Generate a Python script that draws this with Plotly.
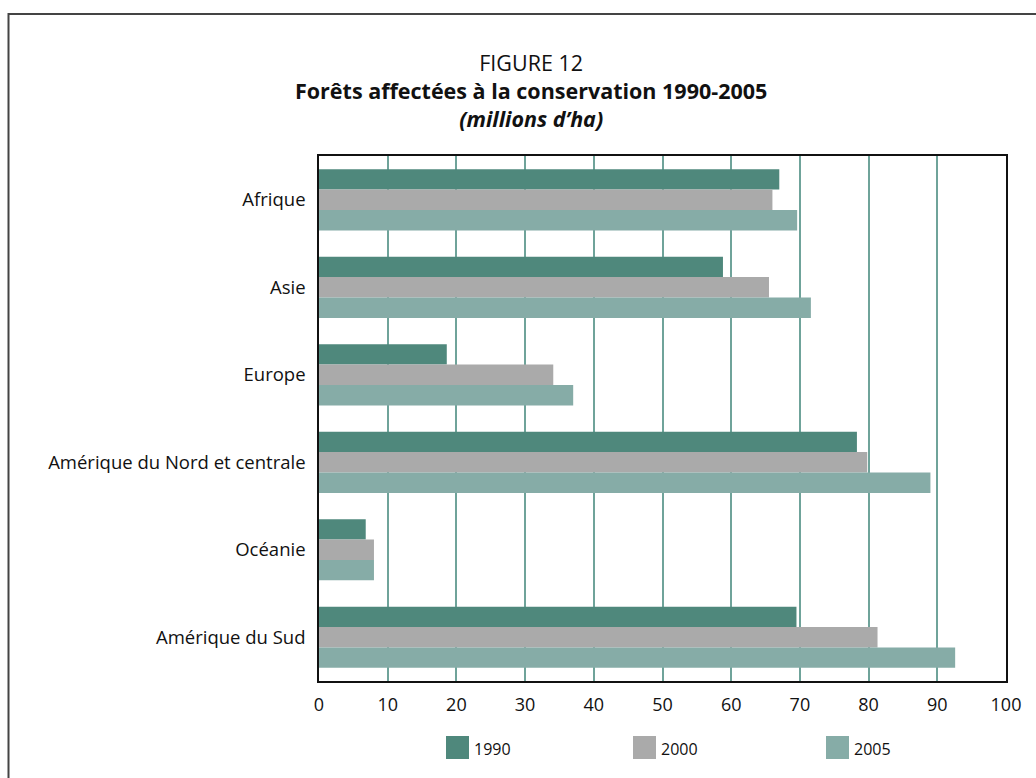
import plotly.graph_objects as go

# Forêts affectées à la conservation, par région (millions d'ha)
regions = ["Afrique", "Asie", "Europe", "Amérique du Nord et centrale",
           "Océanie", "Amérique du Sud"]
years = ["1990", "2000", "2005"]
v1990 = [67.0, 58.8, 18.6, 78.3, 6.8, 69.5]
v2000 = [66.0, 65.5, 34.1, 79.8, 8.0, 81.3]
v2005 = [69.6, 71.6, 37.0, 89.0, 8.0, 92.6]
series = [v1990, v2000, v2005]
colors = ["#4f887c", "#aaaaaa", "#86aca7"]
xticks = [0, 10, 20, 30, 40, 50, 60, 70, 80, 90, 100]

W, H = 1036, 778
ML, MR, MT, MB = 319, 30, 156, 97
PW = W - ML - MR
PH = H - MT - MB
FONT = "Open Sans"


def px_x(p):
    return (p - ML) / PW


def px_y(p):
    return (H - MB - p) / PH


fig = go.Figure()
for name, vals, col in zip(years, series, colors):
    fig.add_trace(go.Bar(
        y=regions, x=vals, name=name, orientation="h",
        marker=dict(color=col, line=dict(width=0)),
        showlegend=False,
    ))

# Legend: large square swatches with labels underneath the axis
legend_x = [446, 633, 826]
shapes = []
annotations = []
for name, col, lx in zip(years, colors, legend_x):
    shapes.append(dict(type="rect", xref="paper", yref="paper",
                       x0=px_x(lx), x1=px_x(lx + 23),
                       y0=px_y(759), y1=px_y(736),
                       fillcolor=col, line=dict(width=0)))
    annotations.append(dict(xref="paper", yref="paper",
                            x=px_x(lx + 26), y=px_y(749),
                            xanchor="left", yanchor="middle",
                            text=name, showarrow=False,
                            font=dict(family=FONT, size=16, color="#111")))

# Outer frame around the figure
shapes.append(dict(type="rect", xref="paper", yref="paper",
                   x0=px_x(8.5), x1=px_x(W + 20),
                   y0=px_y(H + 20), y1=px_y(14),
                   line=dict(color="#444444", width=2),
                   fillcolor="rgba(0,0,0,0)", layer="above"))

# Title block: three centred lines in one text
title_text = ("FIGURE 12<br>"
              "<b>Forêts affectées à la conservation 1990-2005</b><br>"
              "<b><i>(millions d’ha)</i></b>")
annotations.append(dict(xref="paper", yref="paper", x=px_x(531), y=px_y(90),
                        xanchor="center", yanchor="middle", showarrow=False,
                        align="center", text=title_text,
                        font=dict(family=FONT, size=21.5, color="#111")))

fig.update_layout(
    width=W, height=H,
    margin=dict(l=ML, r=MR, t=MT, b=MB, autoexpand=False),
    paper_bgcolor="white", plot_bgcolor="white",
    barmode="group", bargap=0.3, bargroupgap=0,
    font=dict(family=FONT, size=18, color="#111"),
    shapes=shapes, annotations=annotations,
    xaxis=dict(range=[0, 100], tickvals=xticks,
               ticktext=[str(t) for t in xticks],
               showgrid=True, gridcolor="#6fa39a", gridwidth=1.5,
               zeroline=False, showline=True, linecolor="#111",
               linewidth=1.5, mirror=True, ticks="",
               ticklabelstandoff=7,
               tickfont=dict(family=FONT, size=18, color="#111")),
    yaxis=dict(autorange="reversed", showgrid=False, zeroline=False,
               showline=True, linecolor="#111", linewidth=1.5,
               mirror=True, ticks="", ticklabelstandoff=8,
               tickfont=dict(family=FONT, size=18.5, color="#111")),
)

fig.write_html("out.html")
